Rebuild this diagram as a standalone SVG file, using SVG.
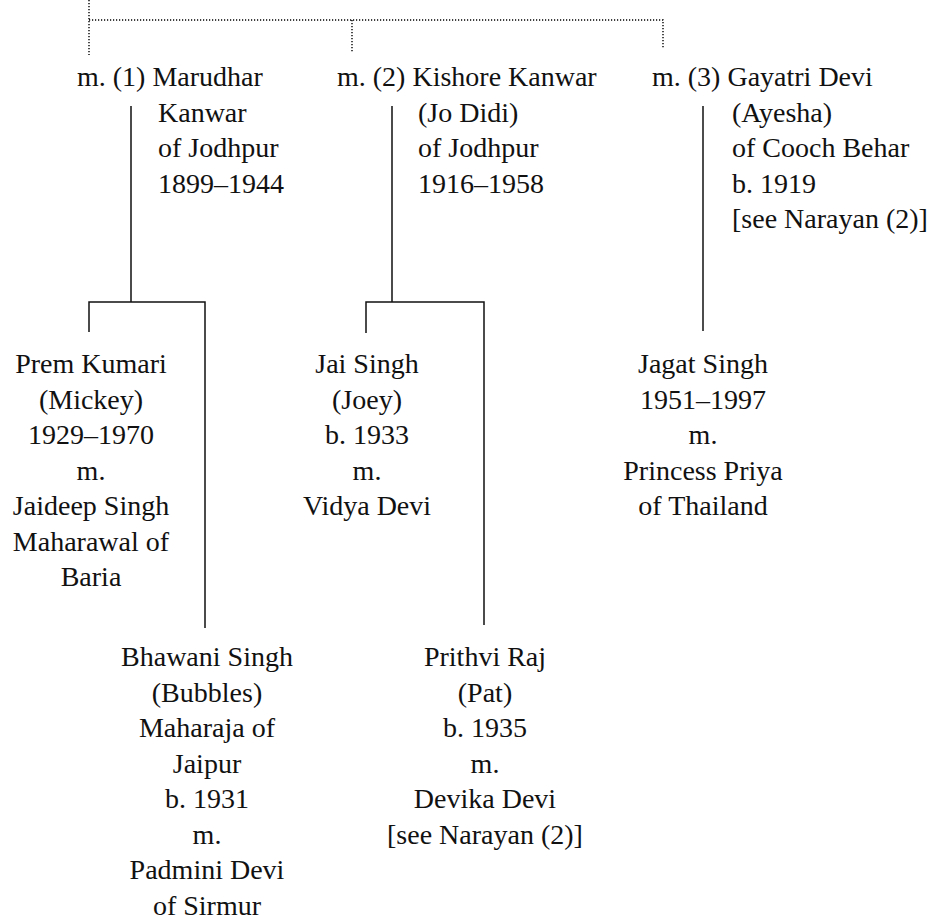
<svg xmlns="http://www.w3.org/2000/svg" width="931" height="920" viewBox="0 0 931 920">
<style>
text { font-family: "Liberation Serif", "Times New Roman", serif; font-size: 28px; fill: #111; }
.c { text-anchor: middle; }
.ln { stroke: #111; stroke-width: 1.5; fill: none; }
.dot { stroke: #000; stroke-width: 1.4; fill: none; stroke-dasharray: 1.2 1.8; }
</style>
<rect width="931" height="920" fill="#fff"/>
<g id="connectors">
  <path class="dot" d="M89 0 V55 M89 20 H663 V48 M352 20 V52"/>
  <path class="ln" d="M131 106 V302 M89 332 V302 H205 V628"/>
  <path class="ln" d="M392 106 V302 M366 333 V302 H484 V625"/>
  <path class="ln" d="M703 106 V331"/>
</g>
<g id="wife1">
  <text x="77" y="86">m. (1) Marudhar</text>
  <text x="158" y="121.5">Kanwar</text>
  <text x="158" y="157">of Jodhpur</text>
  <text x="158" y="192.5">1899–1944</text>
</g>
<g id="wife2">
  <text x="337" y="86">m. (2) Kishore Kanwar</text>
  <text x="418" y="121.5">(Jo Didi)</text>
  <text x="418" y="157">of Jodhpur</text>
  <text x="418" y="192.5">1916–1958</text>
</g>
<g id="wife3">
  <text x="652" y="86">m. (3) Gayatri Devi</text>
  <text x="732" y="121.5">(Ayesha)</text>
  <text x="732" y="157">of Cooch Behar</text>
  <text x="732" y="192.5">b. 1919</text>
  <text x="732" y="228">[see Narayan (2)]</text>
</g>
<g id="prem">
  <text class="c" x="91" y="373">Prem Kumari</text>
  <text class="c" x="91" y="408.5">(Mickey)</text>
  <text class="c" x="91" y="444">1929–1970</text>
  <text class="c" x="91" y="479.5">m.</text>
  <text class="c" x="91" y="515">Jaideep Singh</text>
  <text class="c" x="91" y="550.5">Maharawal of</text>
  <text class="c" x="91" y="586">Baria</text>
</g>
<g id="jai">
  <text class="c" x="367" y="373">Jai Singh</text>
  <text class="c" x="367" y="408.5">(Joey)</text>
  <text class="c" x="367" y="444">b. 1933</text>
  <text class="c" x="367" y="479.5">m.</text>
  <text class="c" x="367" y="515">Vidya Devi</text>
</g>
<g id="jagat">
  <text class="c" x="703" y="373">Jagat Singh</text>
  <text class="c" x="703" y="408.5">1951–1997</text>
  <text class="c" x="703" y="444">m.</text>
  <text class="c" x="703" y="479.5">Princess Priya</text>
  <text class="c" x="703" y="515">of Thailand</text>
</g>
<g id="bhawani">
  <text class="c" x="207" y="666">Bhawani Singh</text>
  <text class="c" x="207" y="701.5">(Bubbles)</text>
  <text class="c" x="207" y="737">Maharaja of</text>
  <text class="c" x="207" y="772.5">Jaipur</text>
  <text class="c" x="207" y="808">b. 1931</text>
  <text class="c" x="207" y="843.5">m.</text>
  <text class="c" x="207" y="879">Padmini Devi</text>
  <text class="c" x="207" y="914.5">of Sirmur</text>
</g>
<g id="prithvi">
  <text class="c" x="485" y="666">Prithvi Raj</text>
  <text class="c" x="485" y="701.5">(Pat)</text>
  <text class="c" x="485" y="737">b. 1935</text>
  <text class="c" x="485" y="772.5">m.</text>
  <text class="c" x="485" y="808">Devika Devi</text>
  <text class="c" x="485" y="843.5">[see Narayan (2)]</text>
</g>
</svg>
